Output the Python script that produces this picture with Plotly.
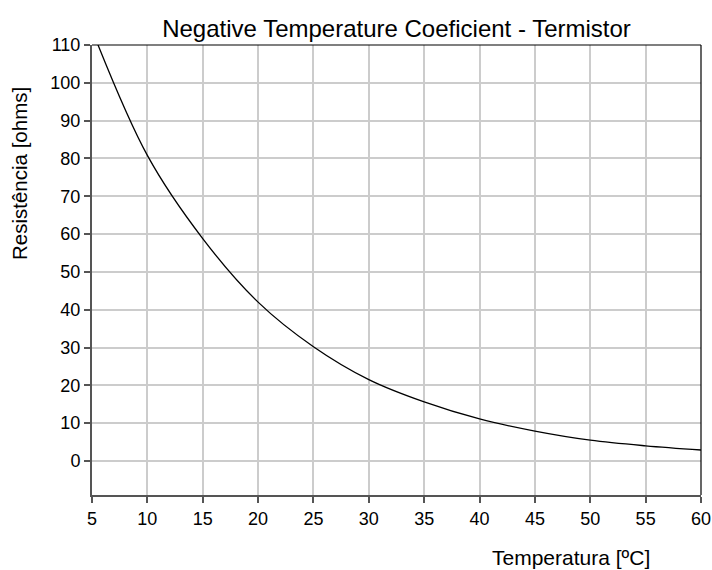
import plotly.graph_objects as go

temperatura = [5, 10, 15, 20, 25, 30, 35, 40, 45, 50, 55, 60]
resistencia = [114, 80.8, 58.8, 42.0, 30.2, 21.5, 15.6, 11.1, 7.9, 5.5, 4.0, 2.9]

x_ticks = [5, 10, 15, 20, 25, 30, 35, 40, 45, 50, 55, 60]
y_ticks = [0, 10, 20, 30, 40, 50, 60, 70, 80, 90, 100, 110]

FONT = "Liberation Sans, Arial, sans-serif"

fig = go.Figure()
fig.add_trace(go.Scatter(
    x=temperatura, y=resistencia, mode="lines",
    line=dict(color="black", width=1.3, shape="spline", smoothing=1.0),
    showlegend=False, cliponaxis=True,
))

L, R, T, B = 92, 11, 45, 75
W, H = 712, 570
plot_h = H - T - B
plot_w = W - L - R

fig.update_layout(
    width=W, height=H,
    margin=dict(l=L, r=R, t=T, b=B, autoexpand=False),
    paper_bgcolor="white", plot_bgcolor="white",
    font=dict(family=FONT, color="black", size=18),
    title=dict(text="Negative Temperature Coeficient - Termistor",
               x=(L + plot_w / 2) / W, xanchor="center",
               y=1 - 29 / H, yanchor="middle", yref="container",
               font=dict(size=24, family=FONT, color="black")),
)

fig.update_xaxes(
    range=[5, 60], tickvals=x_ticks, ticktext=[str(v) for v in x_ticks],
    showgrid=True, gridcolor="#cccccc", gridwidth=1.5,
    showline=True, linecolor="#555555", linewidth=2,
    ticks="outside", ticklen=6, tickcolor="#555555", tickwidth=1.5,
    zeroline=False, automargin=False,
    tickfont=dict(size=18, family=FONT, color="black"),
)
fig.update_yaxes(
    range=[-9, 110], tickvals=y_ticks, ticktext=[str(v) for v in y_ticks],
    showgrid=True, gridcolor="#cccccc", gridwidth=1.5,
    showline=True, linecolor="#555555", linewidth=2,
    ticks="outside", ticklen=6, tickcolor="#555555", tickwidth=1.5,
    zeroline=False, automargin=False,
    tickfont=dict(size=18, family=FONT, color="black"),
)

# top and right frame lines
fig.add_shape(type="line", xref="paper", yref="paper", x0=0, x1=1, y0=1, y1=1,
              line=dict(color="black", width=1.2))
fig.add_shape(type="line", xref="paper", yref="paper", x0=1, x1=1, y0=0, y1=1,
              line=dict(color="black", width=1.2))

fig.add_annotation(text="Temperatura [ºC]", xref="paper", yref="paper",
                   x=(571 - L) / plot_w, y=0, yshift=-62,
                   xanchor="center", yanchor="middle", showarrow=False,
                   font=dict(size=21, family=FONT, color="black"))
fig.add_annotation(text="Resistência [ohms]", xref="paper", yref="paper",
                   x=0, xshift=20 - L, y=(H - B - 174) / plot_h,
                   xanchor="center", yanchor="middle", textangle=-90, showarrow=False,
                   font=dict(size=20.5, family=FONT, color="black"))

fig.write_html("out.html")
